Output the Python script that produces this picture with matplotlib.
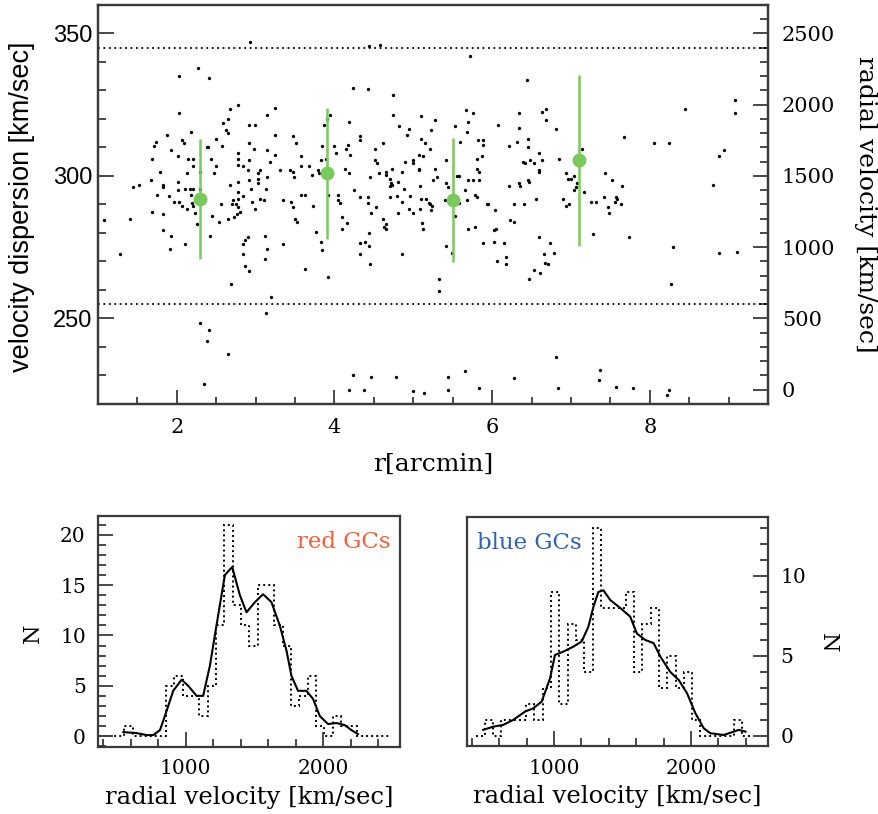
import matplotlib
matplotlib.use('Agg')
import matplotlib.pyplot as plt
import numpy as np
from matplotlib.ticker import MultipleLocator


# globular clusters: projected radius [arcmin] and radial velocity [km/sec]
r_gc = [2.93, 4.44, 4.58, 5.72, 2.27, 2.03, 2.41, 4.23, 4.42, 6.44,
        2.03, 1.88, 2.18, 1.74, 1.71, 2.07, 2.09, 1.92, 2.01, 1.68, 2.14, 2.21, 1.79, 2.21, 2.13,
        2.29, 1.67, 2.02, 1.83, 1.82, 1.52, 1.44, 1.75, 1.90, 2.01, 2.10, 2.17, 2.21, 2.29, 1.96,
        2.03, 2.07, 2.13, 2.19, 2.21, 2.18, 1.68, 1.83, 2.23, 1.08, 1.40, 2.26, 1.83, 1.93, 2.11,
        1.91, 1.28, 2.42, 2.45, 2.53, 2.56, 2.58, 2.50, 2.57, 2.38, 2.40, 2.43, 2.50, 2.47,
        2.68, 2.77, 3.25, 3.15, 2.65, 2.63, 2.65, 2.92, 2.99, 3.25, 3.47, 3.51, 2.92, 2.98, 3.14,
        3.25, 2.77, 2.78, 2.92, 2.78, 2.84, 2.90, 3.18, 3.06, 3.03, 3.44, 3.48, 3.49, 3.31, 3.58,
        3.58, 3.68, 3.71, 3.79, 3.81, 3.84, 3.83, 3.89, 3.87, 3.90, 3.94, 4.19, 4.00, 4.02, 4.14,
        4.17, 4.20, 4.13, 4.19, 4.25, 2.67, 2.78, 2.92, 3.03, 3.03, 3.14, 2.94, 3.13, 2.77, 2.84,
        2.78, 2.71, 2.70, 2.75, 2.77, 2.80, 2.76, 2.72, 2.65, 3.06, 3.11, 2.95, 2.99, 3.35, 3.45,
        3.48, 3.58, 3.63, 3.73, 3.50, 3.52, 3.12, 2.90, 2.87, 2.84, 3.35, 3.14, 2.84, 3.12, 2.87,
        2.91, 3.63, 3.92, 3.77, 3.83, 3.84, 4.04, 4.04, 4.07, 4.10, 4.09, 4.16, 3.92,
        4.74, 4.74, 5.10, 5.27, 5.67, 5.76, 5.69, 4.82, 4.95, 4.92, 5.23, 5.53, 5.68, 4.32, 4.32,
        4.61, 5.10, 5.15, 5.59, 5.82, 4.51, 5.21, 5.07, 5.12, 4.51, 4.54, 4.90, 4.99, 5.00, 5.42,
        5.81, 4.73, 4.57, 4.65, 4.65, 4.86, 5.07, 5.07, 5.27, 4.45, 4.70, 4.72, 4.71, 4.73, 4.80,
        5.09, 5.25, 5.30, 5.55, 5.58, 5.41, 5.44, 5.70, 5.76, 5.81, 5.83, 4.88, 4.33, 4.43, 4.43,
        4.70, 4.79, 4.96, 5.10, 5.16, 5.20, 5.21, 5.24, 5.22, 5.40, 5.58, 5.68, 5.78, 5.81, 5.66,
        4.53, 4.86, 4.95, 5.00, 4.46, 5.09, 4.81, 5.53, 4.62, 4.65, 4.63, 4.66, 5.11, 5.12, 5.70,
        5.78, 4.44, 4.33, 4.39, 4.44, 4.33, 4.86, 5.42, 5.49, 4.45, 5.32,
        6.08, 6.34, 6.63, 6.69, 6.68, 6.34, 6.81, 6.45, 6.32, 6.45, 6.22, 6.60, 6.85, 6.39, 6.42,
        6.48, 6.53, 6.63, 6.60, 6.60, 5.88, 5.89, 5.87, 5.83, 6.94, 6.96, 7.00, 7.04, 7.14, 7.08,
        7.06, 7.04, 7.16, 6.46, 6.47, 6.34, 6.35, 6.21, 6.56, 6.28, 6.41, 5.93, 5.95, 6.04, 6.90,
        6.94, 6.98, 7.25, 7.32, 7.43, 7.52, 7.65, 7.42, 7.47, 7.48, 7.57, 7.59, 7.56, 7.64, 7.67,
        6.23, 6.28, 6.05, 6.02, 5.89, 6.02, 6.15, 6.60, 6.74, 6.78, 6.66, 6.67, 6.71, 6.17, 6.06,
        6.17, 6.53, 6.61, 6.47, 7.28,
        8.45, 9.08, 9.08, 8.06, 8.24, 8.94, 8.88, 8.80, 7.74, 8.29, 8.27, 8.88, 9.11,
        6.81, 6.28, 5.83, 6.84, 7.37, 7.35, 7.57, 7.79, 8.24, 8.22, 2.69, 3.19, 5.32, 3.13, 2.29,
        2.41, 2.38, 2.65, 2.35, 4.23, 4.19, 4.37, 4.46, 4.78, 4.99, 5.13, 5.44, 5.44, 5.66]
v_gc = [2440, 2410, 2420, 2340, 2260, 2200, 2190, 2120, 2110, 2170,
        1940, 1790, 1810, 1740, 1710, 1750, 1730, 1680, 1640, 1620, 1620, 1620, 1530, 1570, 1520,
        1530, 1470, 1460, 1440, 1420, 1440, 1420, 1370, 1360, 1400, 1410, 1410, 1410, 1410, 1320,
        1320, 1290, 1270, 1310, 1290, 1370, 1250, 1230, 1240, 1190, 1200, 1160, 1120, 1080, 1020,
        990, 950, 1080, 1220, 1180, 1300, 1870, 1760, 1710, 1700, 1705, 1620, 1570, 1520,
        1970, 2000, 1980, 1930, 1900, 1820, 1800, 1860, 1860, 1790, 1780, 1730, 1730, 1690, 1680,
        1650, 1660, 1620, 1610, 1580, 1570, 1540, 1600, 1540, 1520, 1540, 1530, 1490, 1540, 1640,
        1570, 1570, 1510, 1540, 1520, 1710, 1610, 1620, 1860, 1900, 1930, 1880, 1710, 1660, 1690,
        1720, 1650, 1550, 1520, 1400, 1440, 1460, 1470, 1480, 1450, 1490, 1410, 1410, 1390, 1360,
        1340, 1330, 1300, 1300, 1280, 1250, 1230, 1210, 1200, 1340, 1330, 1320, 1270, 1330, 1320,
        1280, 1370, 1370, 1290, 1200, 1180, 1080, 1070, 1050, 1020, 1020, 990, 950, 920, 870,
        830, 850, 790, 1110, 1040, 980, 1370, 1330, 1310, 1210, 1130, 1170, 1370,
        2070, 1930, 1920, 1890, 1960, 1940, 1880, 1850, 1830, 1790, 1820, 1850, 1810, 1780, 1750,
        1730, 1760, 1730, 1740, 1750, 1690, 1690, 1650, 1640, 1610, 1590, 1600, 1610, 1590, 1610,
        1620, 1550, 1520, 1530, 1510, 1530, 1550, 1540, 1550, 1490, 1480, 1450, 1430, 1440, 1460,
        1430, 1470, 1490, 1500, 1500, 1450, 1420, 1470, 1470, 1550, 1530, 1410, 1350, 1350, 1310,
        1350, 1360, 1360, 1340, 1340, 1310, 1300, 1290, 1260, 1330, 1310, 1330, 1370, 1350, 1400,
        1280, 1320, 1270, 1240, 1240, 1270, 1240, 1220, 1200, 1160, 1140, 1130, 1170, 1130, 1130,
        1140, 1100, 1030, 1040, 1010, 950, 950, 1010, 960, 880, 780,
        1860, 1940, 1950, 1970, 1890, 1840, 1830, 1760, 1740, 1700, 1710, 1660, 1620, 1600, 1590,
        1610, 1590, 1610, 1540, 1530, 1750, 1720, 1640, 1470, 1520, 1480, 1480, 1500, 1690, 1450,
        1420, 1400, 1390, 1470, 1460, 1450, 1430, 1430, 1340, 1300, 1300, 1300, 1300, 1260, 1340,
        1290, 1300, 1320, 1320, 1520, 1470, 1430, 1350, 1280, 1240, 1350, 1340, 1320, 1300, 1770,
        1190, 1180, 1130, 1120, 1030, 1040, 1030, 1070, 1030, 960, 950, 890, 880, 930, 900,
        880, 840, 820, 780, 1090,
        1970, 2030, 1940, 1730, 1730, 1680, 1640, 1440, 1070, 1000, 740, 960, 970,
        230, 80, 10, 10, 140, 70, 20, 10, 0, -40, 740, 650, 690, 540, 470,
        420, 340, 250, 40, 100, 0, 0, 90, 90, -10, -20, 90, 0, 130]

# velocity dispersion in radial bins
r_bin = [2.3, 3.9, 5.5, 7.1]
sigma_bin = [292, 301, 291.5, 305.5]
sigma_err = [21, 23, 21.7, 30]
v_cut = [600, 2400]

# velocity histograms (bins of 60.6 km/sec)
bin_w = 60.6
red_start = 372
red_counts = [0, 0, 0, 1, 0, 0, 0, 0, 5, 6, 4, 4, 2, 5, 11, 21, 13, 11, 9, 15, 15, 11,
              9, 3, 4, 6, 1, 0, 2, 1, 1, 0, 0, 0, 0]
blue_start = 433
blue_counts = [0, 1, 0, 1, 1, 1, 2, 1, 3, 9, 2, 7, 6, 4, 13, 8, 8, 8, 9, 4, 7, 8, 3,
               5, 3, 4, 1, 0, 0, 0, 0, 1, 0]

# smoothed distributions
red_sm_v = [547, 644, 717, 765, 814, 862, 910, 971, 1019, 1080, 1128, 1177, 1237, 1286,
            1339, 1395, 1443, 1504, 1564, 1625, 1685, 1734, 1770, 1818, 1879, 1927, 1976,
            2036, 2097, 2157, 2206, 2254]
red_sm_n = [0.4, 0.3, 0.1, 0.1, 0.6, 2.5, 4.5, 5.6, 5.0, 4.0, 4.0, 7.0, 12.0, 16.0, 16.8,
            14.0, 12.3, 13.3, 14.1, 13.3, 11.0, 8.5, 6.0, 4.5, 4.5, 3.7, 2.0, 1.2, 1.3, 1.1,
            0.6, 0.2]
blue_sm_v = [483, 556, 629, 702, 788, 849, 910, 971, 1007, 1068, 1141, 1202, 1251, 1288,
             1324, 1361, 1410, 1483, 1556, 1605, 1666, 1727, 1776, 1849, 1910, 1971, 2032,
             2093, 2141, 2239, 2312, 2349, 2398]
blue_sm_n = [0.38, 0.58, 0.69, 1.0, 1.52, 1.73, 2.15, 3.6, 5.06, 5.27, 5.58, 5.9, 6.83,
             8.08, 9.0, 9.1, 8.5, 8.0, 7.46, 6.4, 6.0, 5.8, 4.96, 4.0, 3.5, 2.67, 1.42, 0.48,
             0.17, 0.06, 0.27, 0.38, 0.27]


plt.rcParams['font.family'] = 'DejaVu Serif'
plt.rcParams['xtick.direction'] = 'in'
plt.rcParams['ytick.direction'] = 'in'
plt.rcParams['axes.edgecolor'] = '#3a3a3a'
plt.rcParams['axes.linewidth'] = 1.6
plt.rcParams['xtick.color'] = '#3a3a3a'
plt.rcParams['ytick.color'] = '#3a3a3a'
plt.rcParams['xtick.labelcolor'] = 'black'
plt.rcParams['ytick.labelcolor'] = 'black'

fig = plt.figure(figsize=(8.79, 8.14), dpi=100)

# ---- top panel
ax1 = fig.add_axes([0.1115, 0.5037, 0.7622, 0.4902])
ax2 = ax1.twinx()
ax1.set_zorder(ax2.get_zorder() + 1)
ax1.patch.set_visible(False)

ax2.plot(r_gc, v_gc, 'o', ms=2.4, mew=0, color='k')
for v in v_cut:
    ax2.axhline(v, color='k', lw=1.3, ls=(0, (1, 2)))
ax1.errorbar(r_bin, sigma_bin, yerr=sigma_err, fmt='o', color='#79c95c', ms=9,
             elinewidth=1.8, capsize=0)

ax1.set_xlim(1, 9.5)
ax1.set_ylim(220, 360)
ax2.set_ylim(-100, 2700)

ax1.xaxis.set_major_locator(MultipleLocator(2))
ax1.xaxis.set_minor_locator(MultipleLocator(0.5))
ax1.yaxis.set_major_locator(MultipleLocator(50))
ax1.yaxis.set_minor_locator(MultipleLocator(10))
ax2.yaxis.set_major_locator(MultipleLocator(500))
ax2.yaxis.set_minor_locator(MultipleLocator(100))

ax1.tick_params(axis='x', which='major', length=10, width=1.3, labelsize=15, pad=10)
ax1.tick_params(axis='x', which='minor', length=5, width=1.3)
ax1.tick_params(axis='y', which='major', length=11.5, width=1.3, labelsize=17, pad=4,
                labelfontfamily='Liberation Sans')
ax1.tick_params(axis='y', which='minor', length=6, width=1.3)
ax2.tick_params(axis='y', which='major', length=11, width=1.3, labelsize=15, pad=10)
ax2.tick_params(axis='y', which='minor', length=5.5, width=1.3)

ax1.set_xlabel('r[arcmin]', fontsize=18, va='center')
ax1.xaxis.set_label_coords(0.5, -0.150)
ax1.set_ylabel('velocity dispersion [km/sec]', fontsize=19.5, family='Liberation Sans',
               va='center')
ax1.yaxis.set_label_coords(-0.113, 0.495)
ax2.set_ylabel('radial velocity [km/sec]', fontsize=18, rotation=270, va='center')
ax2.yaxis.set_label_coords(1.145, 0.5)

# ---- bottom panels
axL = fig.add_axes([0.1118, 0.0827, 0.3433, 0.2838])
axR = fig.add_axes([0.531, 0.0835, 0.3424, 0.2817])

red_edges = red_start + bin_w * np.arange(len(red_counts) + 1)
blue_edges = blue_start + bin_w * np.arange(len(blue_counts) + 1)

axL.stairs(red_counts, red_edges, color='k', lw=1.4, ls=(0, (1, 1.6)))
axL.plot(red_sm_v, red_sm_n, color='k', lw=1.5)
axR.stairs(blue_counts, blue_edges, color='k', lw=1.4, ls=(0, (1, 1.6)))
axR.plot(blue_sm_v, blue_sm_n, color='k', lw=1.5)

axL.set_xlim(365, 2560)
axL.set_ylim(-1.05, 21.9)
axR.set_xlim(363, 2560)
axR.set_ylim(-0.63, 13.7)

axR.yaxis.tick_right()
axR.yaxis.set_label_position('right')

for ax, maj in ((axL, 5), (axR, 5)):
    ax.xaxis.set_major_locator(MultipleLocator(1000))
    ax.xaxis.set_minor_locator(MultipleLocator(200))
    ax.yaxis.set_major_locator(MultipleLocator(maj))
    ax.yaxis.set_minor_locator(MultipleLocator(1))
    ax.tick_params(which='major', length=11, width=1.3, labelsize=14.5, pad=9)
    ax.tick_params(which='minor', length=5.5, width=1.3)
    ax.set_xlabel('radial velocity [km/sec]', fontsize=17.5, va='center')
    ax.xaxis.set_label_coords(0.5, -0.218)

axL.set_ylabel('N', fontsize=16, va='center')
axL.yaxis.set_label_coords(-0.216, 0.49)
axR.set_ylabel('N', fontsize=16, rotation=270, va='center')
axR.yaxis.set_label_coords(1.2, 0.45)

axL.text(0.967, 0.86, 'red GCs', transform=axL.transAxes, ha='right', va='baseline',
         color='#f2603a', fontsize=16.5)
axR.text(0.033, 0.859, 'blue GCs', transform=axR.transAxes, ha='left', va='baseline',
         color='#2f62b0', fontsize=16.5)

plt.savefig('out.png', dpi=100)
